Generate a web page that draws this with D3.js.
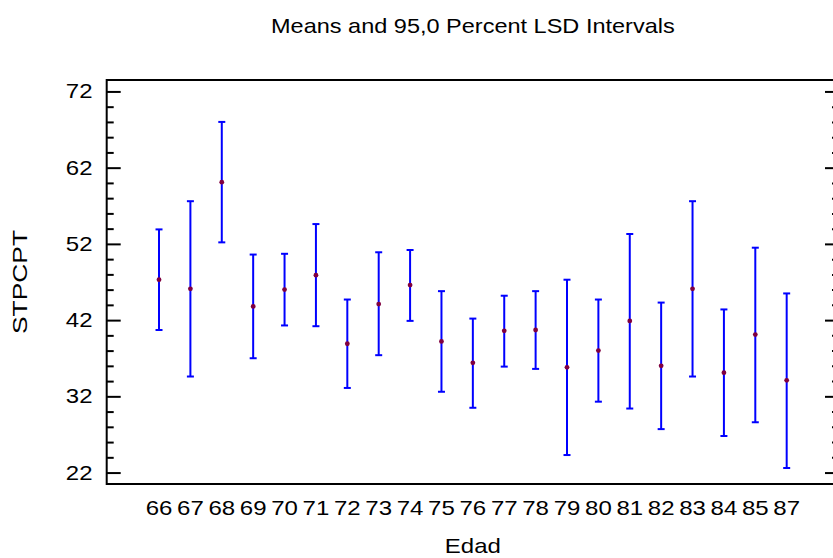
<!DOCTYPE html>
<html>
<head>
<meta charset="utf-8">
<script src="https://cdn.jsdelivr.net/npm/d3@7"></script>
<style>
  html, body { margin: 0; padding: 0; background: #ffffff; }
  svg { display: block; }
  text { font-family: "Liberation Sans", Arial, Helvetica, sans-serif; fill: #000; }
</style>
</head>
<body>
<svg id="chart" width="833" height="558"></svg>
<script>
// Age groups (Edad) and their STPCPT means with 95% LSD interval limits
const categories = ["66","67","68","69","70","71","72","73","74","75","76","77","78","79","80","81","82","83","84","85","87"];
const means = [47.3, 46.1, 60.1, 43.8, 46.0, 47.9, 38.9, 44.1, 46.6, 39.2, 36.4, 40.6, 40.7, 35.8, 38.0, 41.9, 36.0, 46.1, 35.1, 40.1, 34.1];
const lower = [40.7, 34.6, 52.2, 37.0, 41.3, 41.2, 33.1, 37.4, 41.9, 32.6, 30.5, 35.9, 35.6, 24.3, 31.3, 30.4, 27.7, 34.6, 26.8, 28.6, 22.6];
const upper = [53.9, 57.6, 68.0, 50.6, 50.7, 54.6, 44.7, 50.9, 51.2, 45.8, 42.2, 45.2, 45.8, 47.3, 44.7, 53.3, 44.3, 57.6, 43.4, 51.5, 45.5];
const yTicks = [22, 32, 42, 52, 62, 72];

const title = "Means and 95,0 Percent LSD Intervals";
const xTitle = "Edad";
const yTitle = "STPCPT";

const svg = d3.select("#chart");
const plotLeft = 106.7, plotRight = 839, plotTop = 80, plotBottom = 484;
const stretch = 1.2;      // glyphs are drawn wider than the font's natural width
const fontSize = 20;

const x = d3.scalePoint().domain(categories).range([plotLeft, plotRight]).padding(1.667);
const y = d3.scaleLinear().domain([20.5, 73.5]).range([plotBottom, plotTop]);

const rows = categories.map((c, i) => ({ cat: c, mean: means[i], lo: lower[i], hi: upper[i] }));

// Frame: top and bottom rules
svg.append("line").attr("x1", plotLeft).attr("x2", plotRight).attr("y1", plotTop).attr("y2", plotTop)
  .attr("stroke", "#000").attr("stroke-width", 2);
svg.append("line").attr("x1", plotLeft).attr("x2", plotRight).attr("y1", plotBottom).attr("y2", plotBottom)
  .attr("stroke", "#000").attr("stroke-width", 2);

// Left axis with inward ticks (major every 10, minor every 2)
const minor = d3.range(22, 73, 2).filter(v => !yTicks.includes(v));
const leftAxis = svg.append("g").attr("transform", `translate(${plotLeft},0)`);
leftAxis.call(d3.axisRight(y).tickValues(yTicks).tickSize(14).tickFormat(""));
const leftMinor = svg.append("g").attr("transform", `translate(${plotLeft},0)`);
leftMinor.call(d3.axisRight(y).tickValues(minor).tickSize(7).tickFormat(""));
[leftAxis, leftMinor].forEach(g => {
  g.select(".domain").remove();
  g.selectAll(".tick line").attr("stroke", "#000").attr("stroke-width", 2);
});
svg.append("line").attr("x1", plotLeft).attr("x2", plotLeft).attr("y1", plotTop - 1).attr("y2", plotBottom + 1)
  .attr("stroke", "#000").attr("stroke-width", 2);

// Right axis with inward ticks
const rightAxis = svg.append("g").attr("transform", `translate(${plotRight},0)`);
rightAxis.call(d3.axisLeft(y).tickValues(yTicks).tickSize(14).tickFormat(""));
const rightMinor = svg.append("g").attr("transform", `translate(${plotRight},0)`);
rightMinor.call(d3.axisLeft(y).tickValues(minor).tickSize(7).tickFormat(""));
[rightAxis, rightMinor].forEach(g => {
  g.select(".domain").remove();
  g.selectAll(".tick line").attr("stroke", "#000").attr("stroke-width", 2);
});

// Y tick labels
svg.append("g").selectAll("text").data(yTicks).join("text")
  .attr("transform", d => `translate(92.5,${y(d) + 7}) scale(${stretch},1)`)
  .attr("text-anchor", "end")
  .attr("font-size", fontSize)
  .text(d => d);

// X tick labels
svg.append("g").selectAll("text").data(categories).join("text")
  .attr("transform", d => `translate(${x(d)},515) scale(${stretch},1)`)
  .attr("text-anchor", "middle")
  .attr("font-size", fontSize)
  .text(d => d);

// Interval bars
const bars = svg.append("g");
bars.selectAll("line.stem").data(rows).join("line").attr("class", "stem")
  .attr("x1", d => x(d.cat)).attr("x2", d => x(d.cat))
  .attr("y1", d => y(d.hi)).attr("y2", d => y(d.lo))
  .attr("stroke", "#0000ff").attr("stroke-width", 2);
bars.selectAll("line.capTop").data(rows).join("line").attr("class", "capTop")
  .attr("x1", d => x(d.cat) - 3.5).attr("x2", d => x(d.cat) + 3.5)
  .attr("y1", d => y(d.hi)).attr("y2", d => y(d.hi))
  .attr("stroke", "#0000ff").attr("stroke-width", 2);
bars.selectAll("line.capBot").data(rows).join("line").attr("class", "capBot")
  .attr("x1", d => x(d.cat) - 3.5).attr("x2", d => x(d.cat) + 3.5)
  .attr("y1", d => y(d.lo)).attr("y2", d => y(d.lo))
  .attr("stroke", "#0000ff").attr("stroke-width", 2);

// Mean markers
bars.selectAll("circle").data(rows).join("circle")
  .attr("cx", d => x(d.cat)).attr("cy", d => y(d.mean))
  .attr("r", 2.4).attr("fill", "#80003f");

// Titles
const mid = (plotLeft + plotRight) / 2;
svg.append("text")
  .attr("transform", `translate(${mid},33) scale(${stretch * 0.98},1.05)`)
  .attr("text-anchor", "middle").attr("font-size", fontSize)
  .text(title);
svg.append("text")
  .attr("transform", `translate(${mid},553) scale(${stretch},1)`)
  .attr("text-anchor", "middle").attr("font-size", fontSize)
  .text(xTitle);
svg.append("text")
  .attr("transform", `translate(26.7,${(plotTop + plotBottom) / 2}) rotate(-90) scale(${stretch * 1.1},1)`)
  .attr("text-anchor", "middle").attr("font-size", fontSize)
  .text(yTitle);
</script>
</body>
</html>
